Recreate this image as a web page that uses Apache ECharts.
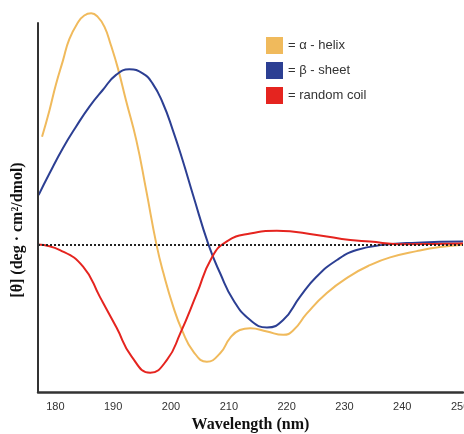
<!DOCTYPE html>
<html>
<head>
<meta charset="utf-8">
<script src="https://cdn.jsdelivr.net/npm/echarts@6/dist/echarts.min.js"></script>
<style>
  html, body { margin: 0; padding: 0; background: #fff; overflow: hidden; }
  #chart { width: 464px; height: 434px; }
</style>
</head>
<body>
<div id="chart"></div>
<script>
// Far-UV circular dichroism spectra of the three secondary-structure types
// (mean residue ellipticity, arbitrary units x 1000).

const tickLabels = [180, 190, 200, 210, 220, 230, 240, 250];
const seriesNames = ['= \u03b1 - helix', '= \u03b2 - sheet', '= random coil'];
const seriesColors = ['#F0BA5C', '#2C3F93', '#E5241F'];

const helixNm = [177.7, 179.0, 180.1, 181.3, 182.4, 183.9, 185.0, 186.2, 187.3, 188.5, 189.6, 190.8,
  192.2, 194.0, 195.7, 197.5, 198.7, 200.4, 201.9, 203.9, 206.2, 208.5, 210.2, 211.9,
  213.7, 216.6, 219.4, 221.2, 223.5, 226.9, 231.0, 234.4, 237.9, 242.5, 246.5, 250.5];
const helixTheta = [29.2, 36.5, 43.4, 49.8, 55.6, 60.2, 62.1, 62.7, 61.8, 59.0, 54.1, 47.9,
  39.2, 28.3, 14.8, -0.1, -7.8, -16.9, -23.2, -29.1, -31.8, -29.5, -25.4, -23.2,
  -22.7, -23.6, -24.5, -23.2, -18.7, -13.2, -8.5, -5.6, -3.5, -1.8, -0.7, -0.1];

const sheetNm = [177.1, 179.0, 181.3, 183.6, 185.9, 188.2, 190.5, 192.8, 195.1, 196.8, 198.6,
  200.3, 202.0, 203.8, 206.5, 208.5, 210.8, 213.7, 216.6, 219.4, 222.3, 225.2, 228.7,
  232.1, 236.7, 242.5, 250.5];
const sheetTheta = [13.4, 19.3, 26.1, 32.0, 37.4, 41.9, 46.0, 47.5, 46.4, 43.7, 38.3,
  31.1, 22.9, 13.5, -0.1, -7.8, -15.1, -20.5, -22.5, -20.5, -14.2, -8.7, -4.2,
  -1.5, -0.1, 0.5, 0.8];

const coilNm = [177.0, 180.8, 184.8, 187.7, 190.6, 193.2, 196.4, 199.3, 201.6, 204.5, 207.0,
  209.6, 213.7, 218.3, 225.2, 231.0, 234.4, 239.6, 250.5];
const coilTheta = [0.0, -1.5, -6.0, -14.2, -22.6, -30.4, -34.8, -31.3, -24.1, -13.2, -3.7,
  0.8, 3.0, 3.7, 2.6, 1.2, 0.8, 0.1, 0.3];

const pairs = (xs, ys) => xs.map((x, i) => [x, ys[i]]);

const X_MIN = 177, X_MAX = 250.5;
const Y_MIN = -40, Y_MAX = 64, Y_AXIS_TOP = 60.3;

const lineSeries = (name, data, color) => ({
  name,
  type: 'line',
  data,
  smooth: 0.5,
  symbol: 'none',
  clip: false,
  color,
  lineStyle: { width: 2, color },
  itemStyle: { color },
  z: 3
});

const helix = lineSeries(seriesNames[0], pairs(helixNm, helixTheta), seriesColors[0]);
// zero baseline (dotted) and the y-axis rule
helix.markLine = {
  silent: true,
  symbol: 'none',
  label: { show: false },
  data: [
    [{ coord: [X_MIN, 0], lineStyle: { color: '#222', width: 2, type: [2, 2] } },
     { coord: [X_MAX, 0] }],
    [{ coord: [X_MIN, Y_MIN], lineStyle: { color: '#333', width: 2, type: 'solid' } },
     { coord: [X_MIN, Y_AXIS_TOP] }]
  ]
};

const chart = echarts.init(document.getElementById('chart'), null, { renderer: 'canvas', width: 464, height: 434 });
chart.setOption({
  animation: false,
  backgroundColor: '#fff',
  grid: { left: 38, right: 1, top: 8.5, bottom: 42, containLabel: false, outerBoundsMode: 'none' },
  legend: {
    data: seriesNames,
    orient: 'vertical',
    left: 266,
    top: 37,
    icon: 'rect',
    itemWidth: 17,
    itemHeight: 17,
    itemGap: 8,
    padding: 0,
    textStyle: { fontSize: 13, color: '#333', fontFamily: '"Liberation Sans", Arial, sans-serif' }
  },
  xAxis: {
    type: 'value',
    min: X_MIN,
    max: X_MAX,
    name: 'Wavelength (nm)',
    nameLocation: 'middle',
    nameGap: 24,
    nameTextStyle: { fontSize: 16, fontWeight: 'bold', color: '#111', fontFamily: '"Liberation Serif", "Times New Roman", serif' },
    axisLine: { show: true, onZero: false, lineStyle: { color: '#333', width: 2.5 } },
    axisTick: { show: false },
    splitLine: { show: false },
    axisLabel: {
      customValues: tickLabels,
      margin: 9,
      fontSize: 11,
      color: '#333',
      fontFamily: '"Liberation Sans", Arial, sans-serif',
      showMinLabel: true,
      showMaxLabel: true
    }
  },
  yAxis: {
    type: 'value',
    min: Y_MIN,
    max: Y_MAX,
    axisLine: { show: false },
    axisTick: { show: false },
    axisLabel: { show: false },
    splitLine: { show: false }
  },
  graphic: [{
    type: 'text',
    x: 17.5,
    y: 230,
    rotation: Math.PI / 2,
    style: {
      text: '[\u03b8] (deg \u00b7 cm\u00b2/dmol)',
      font: 'bold 16px "Liberation Serif", "Times New Roman", serif',
      fill: '#111',
      textAlign: 'center',
      textVerticalAlign: 'middle'
    }
  }],
  series: [
    helix,
    lineSeries(seriesNames[1], pairs(sheetNm, sheetTheta), seriesColors[1]),
    lineSeries(seriesNames[2], pairs(coilNm, coilTheta), seriesColors[2])
  ]
});
</script>
</body>
</html>
